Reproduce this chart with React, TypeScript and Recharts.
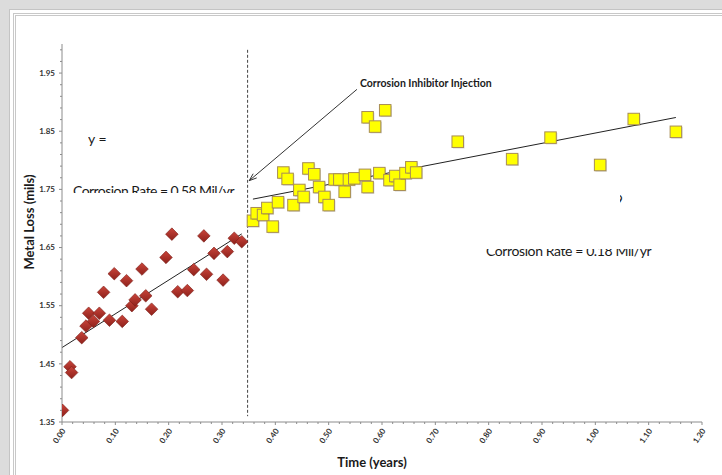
import {
  ScatterChart,
  Scatter,
  XAxis,
  YAxis,
  ReferenceLine,
} from 'recharts';

// before injection (red diamonds)
const redTime = [
  0.001, 0.015, 0.018, 0.037, 0.045, 0.05, 0.059, 0.07, 0.078, 0.089,
  0.098, 0.113, 0.121, 0.131, 0.137, 0.15, 0.157, 0.168, 0.195, 0.206,
  0.217, 0.235, 0.247, 0.266, 0.271, 0.285, 0.302, 0.31, 0.323, 0.337,
];
const redLoss = [
  1.37, 1.445, 1.435, 1.495, 1.515, 1.537, 1.523, 1.537, 1.573, 1.525,
  1.605, 1.523, 1.593, 1.55, 1.56, 1.613, 1.567, 1.544, 1.633, 1.673,
  1.574, 1.576, 1.612, 1.67, 1.604, 1.64, 1.594, 1.643, 1.666, 1.66,
];

// after injection (yellow squares)
const yellowTime = [
  0.358, 0.365, 0.377, 0.385, 0.395, 0.405, 0.415, 0.423, 0.434, 0.445,
  0.453, 0.462, 0.473, 0.482, 0.492, 0.5, 0.511, 0.52, 0.53, 0.538,
  0.548, 0.568, 0.573, 0.573, 0.587, 0.595, 0.606, 0.614, 0.625, 0.633,
  0.644, 0.655, 0.664, 0.742, 0.844, 0.916, 1.009, 1.072, 1.151,
];
const yellowLoss = [
  1.696, 1.709, 1.706, 1.718, 1.686, 1.728, 1.779, 1.768, 1.723, 1.749,
  1.737, 1.786, 1.776, 1.754, 1.737, 1.723, 1.767, 1.767, 1.746, 1.767,
  1.769, 1.775, 1.874, 1.754, 1.858, 1.778, 1.886, 1.766, 1.773, 1.758,
  1.778, 1.788, 1.779, 1.832, 1.802, 1.839, 1.792, 1.871, 1.849,
];

// linear fits
const redSlope = 0.58;
const redIntercept = 1.478;
const redFitRange = [0, 0.337];
const yellowSlope = 0.177;
const yellowIntercept = 1.6699;
const yellowFitRange = [0.358, 1.151];

const injectionTime = 0.348;

// every 0.02, labelled every 0.10
const xTicks = Array.from({ length: 61 }, (_, i) => +(i * 0.02).toFixed(2));
const yTicks = Array.from({ length: 33 }, (_, i) => +(1.35 + i * 0.02).toFixed(2));

const redData = redTime.map((t, i) => ({ t, v: redLoss[i] }));
const yellowData = yellowTime.map((t, i) => ({ t, v: yellowLoss[i] }));

const FONT = 'Lato, "Open Sans", sans-serif';
const AXIS = '#8c8c8c';

function Diamond(props: any) {
  const { cx, cy } = props;
  const r = 6.3;
  return (
    <polygon
      points={`${cx},${cy - r} ${cx + r},${cy} ${cx},${cy + r} ${cx - r},${cy}`}
      fill="url(#redDiamond)"
      stroke="#7a1c16"
      strokeWidth={0.6}
    />
  );
}

function Square(props: any) {
  const { cx, cy } = props;
  const s = 11.5;
  return (
    <g>
      <rect x={cx - s / 2 + 1} y={cy - s / 2 + 1} width={s} height={s} fill="rgba(0,0,0,0.18)" />
      <rect x={cx - s / 2} y={cy - s / 2} width={s} height={s} fill="#ffff00" stroke="#a88d55" strokeWidth={1} />
    </g>
  );
}

function Arrow(props: any) {
  const { x1, y1, x2, y2 } = props;
  const ang = Math.atan2(y2 - y1, x2 - x1);
  const len = 8;
  const a1 = ang + Math.PI - 0.35;
  const a2 = ang + Math.PI + 0.35;
  return (
    <g stroke="#333" strokeWidth={1} fill="none">
      <line x1={x1} y1={y1} x2={x2} y2={y2} />
      <line x1={x2} y1={y2} x2={x2 + len * Math.cos(a1)} y2={y2 + len * Math.sin(a1)} />
      <line x1={x2} y1={y2} x2={x2 + len * Math.cos(a2)} y2={y2 + len * Math.sin(a2)} />
    </g>
  );
}

function XTick(props: any) {
  const { x, y, index, payload } = props;
  const major = index % 5 === 0;
  const ax = x + 4;
  const ay = y + 9;
  return (
    <g>
      <line x1={x} y1={y} x2={x} y2={y + (major ? 3 : 2)} stroke={AXIS} />
      {major && (
        <text
          x={ax}
          y={ay}
          transform={`rotate(-55, ${ax}, ${ay})`}
          textAnchor="end"
          fontSize={8}
          fontWeight={700}
          fontFamily={FONT}
          fill="#333"
        >
          {payload.value.toFixed(2)}
        </text>
      )}
    </g>
  );
}

function YTick(props: any) {
  const { x, y, index, payload } = props;
  const major = index % 5 === 0;
  return (
    <g>
      <line x1={x} y1={y} x2={x - (major ? 3 : 2)} y2={y} stroke={AXIS} />
      {major && (
        <text
          x={x - 7}
          y={y}
          dy={2.8}
          textAnchor="end"
          fontSize={8}
          fontWeight={700}
          fontFamily={FONT}
          fill="#333"
        >
          {payload.value.toFixed(2)}
        </text>
      )}
    </g>
  );
}

export default function App() {
  return (
    <div
      style={{
        position: 'absolute',
        left: 0,
        top: 0,
        width: 722,
        height: 475,
        background: '#dcdcdc',
        overflow: 'hidden',
        fontFamily: FONT,
      }}
    >
      {/* white panel with double border */}
      <div
        style={{
          position: 'absolute',
          left: 9,
          top: 9,
          right: 0,
          bottom: 0,
          background: '#fff',
          borderLeft: '1px solid #c4c4c4',
          borderTop: '1px solid #c4c4c4',
        }}
      />
      <div
        style={{
          position: 'absolute',
          left: 13,
          top: 13,
          right: 0,
          bottom: 0,
          borderLeft: '1px solid #c8c8c8',
          borderTop: '1px solid #c8c8c8',
        }}
      />
      <div
        style={{
          position: 'absolute',
          left: 15,
          top: 15,
          right: 0,
          bottom: 0,
          borderLeft: '1px solid #c8c8c8',
          borderTop: '1px solid #c8c8c8',
        }}
      />

      <div style={{ position: 'absolute', left: 0, top: 0 }}>
        <ScatterChart
          width={722}
          height={475}
          margin={{ top: 44, right: 20, bottom: 0, left: 0 }}
        >
          <defs>
            <linearGradient id="redDiamond" x1="0" y1="0" x2="0" y2="1">
              <stop offset="0%" stopColor="#c9443a" />
              <stop offset="100%" stopColor="#8e211b" />
            </linearGradient>
          </defs>
          <XAxis
            type="number"
            dataKey="t"
            domain={[0, 1.2]}
            ticks={xTicks}
            interval={0}
            allowDataOverflow
            height={53}
            stroke={AXIS}
            tickLine={false}
            tickSize={0}
            tickMargin={0}
            tick={<XTick />}
          />
          <YAxis
            type="number"
            dataKey="v"
            domain={[1.35, 2.0]}
            ticks={yTicks}
            interval={0}
            allowDataOverflow
            width={62}
            stroke={AXIS}
            tickLine={false}
            tickSize={0}
            tickMargin={0}
            tick={<YTick />}
          />
          <ReferenceLine
            segment={[
              { x: injectionTime, y: 1.99 },
              { x: injectionTime, y: 1.36 },
            ]}
            stroke="#444"
            strokeDasharray="3 2"
            strokeWidth={1}
          />
          <ReferenceLine
            segment={[
              { x: redFitRange[0], y: redIntercept + redSlope * redFitRange[0] },
              { x: redFitRange[1], y: redIntercept + redSlope * redFitRange[1] },
            ]}
            stroke="#222"
            strokeWidth={1}
          />
          <ReferenceLine
            segment={[
              { x: yellowFitRange[0], y: yellowIntercept + yellowSlope * yellowFitRange[0] },
              { x: yellowFitRange[1], y: yellowIntercept + yellowSlope * yellowFitRange[1] },
            ]}
            stroke="#222"
            strokeWidth={1}
          />
          <ReferenceLine
            segment={[
              { x: 0.553, y: 1.922 },
              { x: 0.351, y: 1.765 },
            ]}
            shape={<Arrow />}
          />
          <Scatter data={redData} shape={<Diamond />} isAnimationActive={false} />
          <Scatter data={yellowData} shape={<Square />} isAnimationActive={false} />
        </ScatterChart>
      </div>

      {/* annotations */}
      <div
        style={{
          position: 'absolute',
          left: 360,
          top: 77,
          fontSize: 10.5,
          fontWeight: 700,
          color: '#1a1a1a',
          whiteSpace: 'nowrap',
        }}
      >
        Corrosion Inhibitor Injection
      </div>
      <div
        style={{
          position: 'absolute',
          left: 88,
          top: 132,
          width: 20,
          height: 18,
          overflow: 'hidden',
          fontSize: 14,
          lineHeight: '14px',
          color: '#1a1a1a',
          whiteSpace: 'nowrap',
        }}
      >
        y = 0.58x + 1.478
      </div>
      <div
        style={{
          position: 'absolute',
          left: 73,
          top: 184,
          width: 200,
          height: 9,
          overflow: 'hidden',
          fontSize: 14,
          lineHeight: '14px',
          letterSpacing: '-0.55px',
          color: '#1a1a1a',
          whiteSpace: 'nowrap',
        }}
      >
        Corrosion Rate = 0.58 Mil/yr
      </div>
      <div
        style={{
          position: 'absolute',
          left: 620,
          top: 193,
          width: 3,
          height: 14,
          overflow: 'hidden',
          fontSize: 14,
          lineHeight: '14px',
          color: '#1a1a1a',
        }}
      >
        <span style={{ position: 'absolute', right: 0, top: 0, whiteSpace: 'nowrap' }}>
          y = 0.177x + 1.6699
        </span>
      </div>
      <div
        style={{
          position: 'absolute',
          left: 486,
          top: 249,
          width: 200,
          height: 13,
          overflow: 'hidden',
          fontSize: 14,
          lineHeight: '14px',
          letterSpacing: '-0.4px',
          color: '#1a1a1a',
        }}
      >
        <span style={{ position: 'absolute', left: 0, top: -5, whiteSpace: 'nowrap' }}>
          Corrosion Rate = 0.18 Mil/yr
        </span>
      </div>

      {/* axis titles */}
      <div
        style={{
          position: 'absolute',
          left: 29,
          top: 222,
          transform: 'translate(-50%, -50%) rotate(-90deg)',
          fontSize: 13,
          fontWeight: 700,
          color: '#1a1a1a',
          whiteSpace: 'nowrap',
        }}
      >
        Metal Loss (mils)
      </div>
      <div
        style={{
          position: 'absolute',
          left: 372,
          top: 462,
          transform: 'translate(-50%, -50%)',
          fontSize: 13,
          fontWeight: 700,
          color: '#1a1a1a',
          whiteSpace: 'nowrap',
        }}
      >
        Time (years)
      </div>
    </div>
  );
}
